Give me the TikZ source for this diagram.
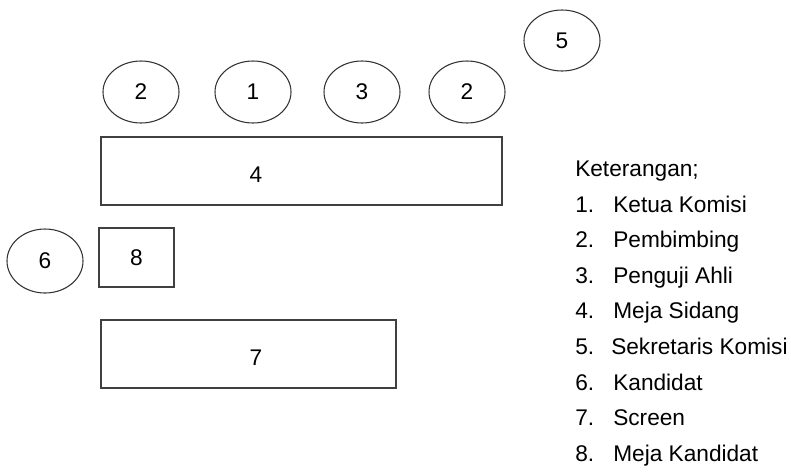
\documentclass[tikz,border=0pt]{standalone}
\usepackage{fontspec}
\setmainfont{Liberation Sans}
\usetikzlibrary{shapes.geometric}
\tikzset{
  orang/.style={shape=ellipse,draw=black!80,line width=0.8pt,inner sep=0pt,minimum width=57pt,minimum height=46.5pt},
  meja/.style={shape=rectangle,draw=black!75,line width=0.9pt,inner sep=0pt},
  ket/.style={anchor=base west,inner sep=0pt}
}
\begin{document}
\begin{tikzpicture}[x=0.75pt,y=-0.75pt,font=\fontsize{17}{20}\selectfont]
\useasboundingbox (0,0) rectangle (791,472);
\node(p2a) at (141,92)[orang]        {2};
\node(p1) at (253,92)[orang]        {1};
\node(p3) at (362,92)[orang]        {3};
\node(p2b) at (467,92)[orang]        {2};
\node(p5) at (562,40.5)[orang,minimum height=45.75pt]        {5};
\node(p6) at (45,261)[orang,minimum height=48pt]        {6};
\node(m4) at (301.5,171)[meja,minimum width=300.75pt,minimum height=51pt]        {};
\node(l4) at (256,175)        {4};
\node(m8) at (136.5,257.5)[meja,minimum width=56.25pt,minimum height=44.25pt]        {8};
\node(m7) at (248.5,354)[meja,minimum width=221.25pt,minimum height=51pt]        {};
\node(l7) at (256,358)        {7};
% keterangan
\node(ket) at (575,176)[ket]        {Keterangan;};
\node(n1) at (575,212)[ket]        {1.};
\node(t1) at (613,212)[ket]        {Ketua Komisi};
\node(n2) at (575,247.6)[ket]        {2.};
\node(t2) at (613,247.6)[ket]        {Pembimbing};
\node(n3) at (575,283.2)[ket]        {3.};
\node(t3) at (613,283.2)[ket]        {Penguji Ahli};
\node(n4) at (575,318.8)[ket]        {4.};
\node(t4) at (613,318.8)[ket]        {Meja Sidang};
\node(n5) at (575,354.4)[ket]        {5.};
\node(t5) at (611,354.4)[ket]        {Sekretaris Komisi};
\node(n6) at (575,390)[ket]        {6.};
\node(t6) at (613,390)[ket]        {Kandidat};
\node(n7) at (575,425.6)[ket]        {7.};
\node(t7) at (613,425.6)[ket]        {Screen};
\node(n8) at (575,461.2)[ket]        {8.};
\node(t8) at (613,461.2)[ket]        {Meja Kandidat};
\end{tikzpicture}
\end{document}
